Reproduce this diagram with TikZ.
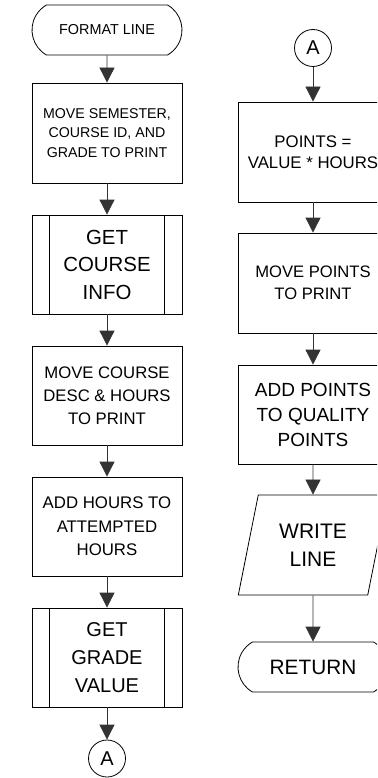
\documentclass[tikz,border=0pt]{standalone}
\usepackage{fontspec}
\setmainfont{Liberation Sans}
\usetikzlibrary{arrows.meta,shapes.misc,shapes.geometric}
\newcommand{\fsz}[2]{\fontsize{#1pt}{#2pt}\selectfont}
\tikzset{
  base/.style={draw=black, line width=0.8pt, inner sep=0pt, align=center, text=black},
  procbox/.style={base, rectangle, minimum width=150pt, minimum height=#1},
  procbox/.default=100pt,
  termbox/.style={base, rounded rectangle, rounded rectangle arc length=120, minimum width=150pt, minimum height=50pt},
  iobox/.style={base, trapezium, trapezium left angle=73.8, trapezium right angle=106.2, trapezium stretches=true, minimum width=150pt, minimum height=100pt},
  connbox/.style={base, circle, minimum size=37pt},
  flow/.style={draw=black!80, line width=0.8pt, -{Triangle[width=15pt,length=15pt]}},
}
\begin{document}
\begin{tikzpicture}[x=1pt,y=-1pt]
\useasboundingbox (0,0) rectangle (377,778);
\clip (0,0) rectangle (377,778);
% left column
\node[termbox, font=\fsz{14.4}{19}] (start) at (107,30) {FORMAT LINE};
\node[procbox, font=\fsz{14.2}{19.5}] (b1) at (107,133) {MOVE SEMESTER,\\COURSE ID, AND\\GRADE TO PRINT};
\node[procbox=99pt, font=\fsz{20.4}{27.5}] (b2) at (107,264.5) {GET\\COURSE\\INFO};
\draw[line width=0.8pt] ([xshift=18pt]b2.north west) -- ([xshift=18pt]b2.south west);
\draw[line width=0.8pt] ([xshift=-18pt]b2.north east) -- ([xshift=-18pt]b2.south east);
\node[procbox=99pt, font=\fsz{16.7}{23}] (b3) at (107,395.5) {MOVE COURSE\\DESC \& HOURS\\TO PRINT};
\node[procbox=99pt, font=\fsz{16.8}{23.5}] (b4) at (107,526.5) {ADD HOURS TO\\ATTEMPTED\\HOURS};
\node[procbox=99pt, font=\fsz{20}{28}] (b5) at (107,657.5) {GET\\GRADE\\VALUE};
\draw[line width=0.8pt] ([xshift=18pt]b5.north west) -- ([xshift=18pt]b5.south west);
\draw[line width=0.8pt] ([xshift=-18pt]b5.north east) -- ([xshift=-18pt]b5.south east);
\node[connbox, font=\fsz{20}{24}] (ca1) at (107,758.5) {A};
% right column
\node[connbox, font=\fsz{20}{24}] (ca2) at (313,48) {A};
\node[procbox, font=\fsz{16.8}{20.5}] (r1) at (313,152) {POINTS =\\VALUE * HOURS};
\node[procbox, font=\fsz{16.6}{21.5}] (r2) at (313,283) {MOVE POINTS\\TO PRINT};
\node[procbox=99pt, font=\fsz{19}{25}] (r3) at (313,414.5) {ADD POINTS\\TO QUALITY\\POINTS};
\node[iobox, font=\fsz{21}{28}] (r4) at (313,545) {WRITE\\LINE};
\node[termbox, font=\fsz{20.8}{25}] (r5) at (313,667) {RETURN};
% connectors
\draw[flow] (start) -- (b1);
\draw[flow] (b1) -- (b2);
\draw[flow] (b2) -- (b3);
\draw[flow] (b3) -- (b4);
\draw[flow] (b4) -- (b5);
\draw[flow] (b5) -- (ca1);
\draw[flow] (ca2) -- (r1);
\draw[flow] (r1) -- (r2);
\draw[flow] (r2) -- (r3);
\draw[flow] (r3) -- (r4);
\draw[flow] (r4) -- (r5);
\end{tikzpicture}
\end{document}
